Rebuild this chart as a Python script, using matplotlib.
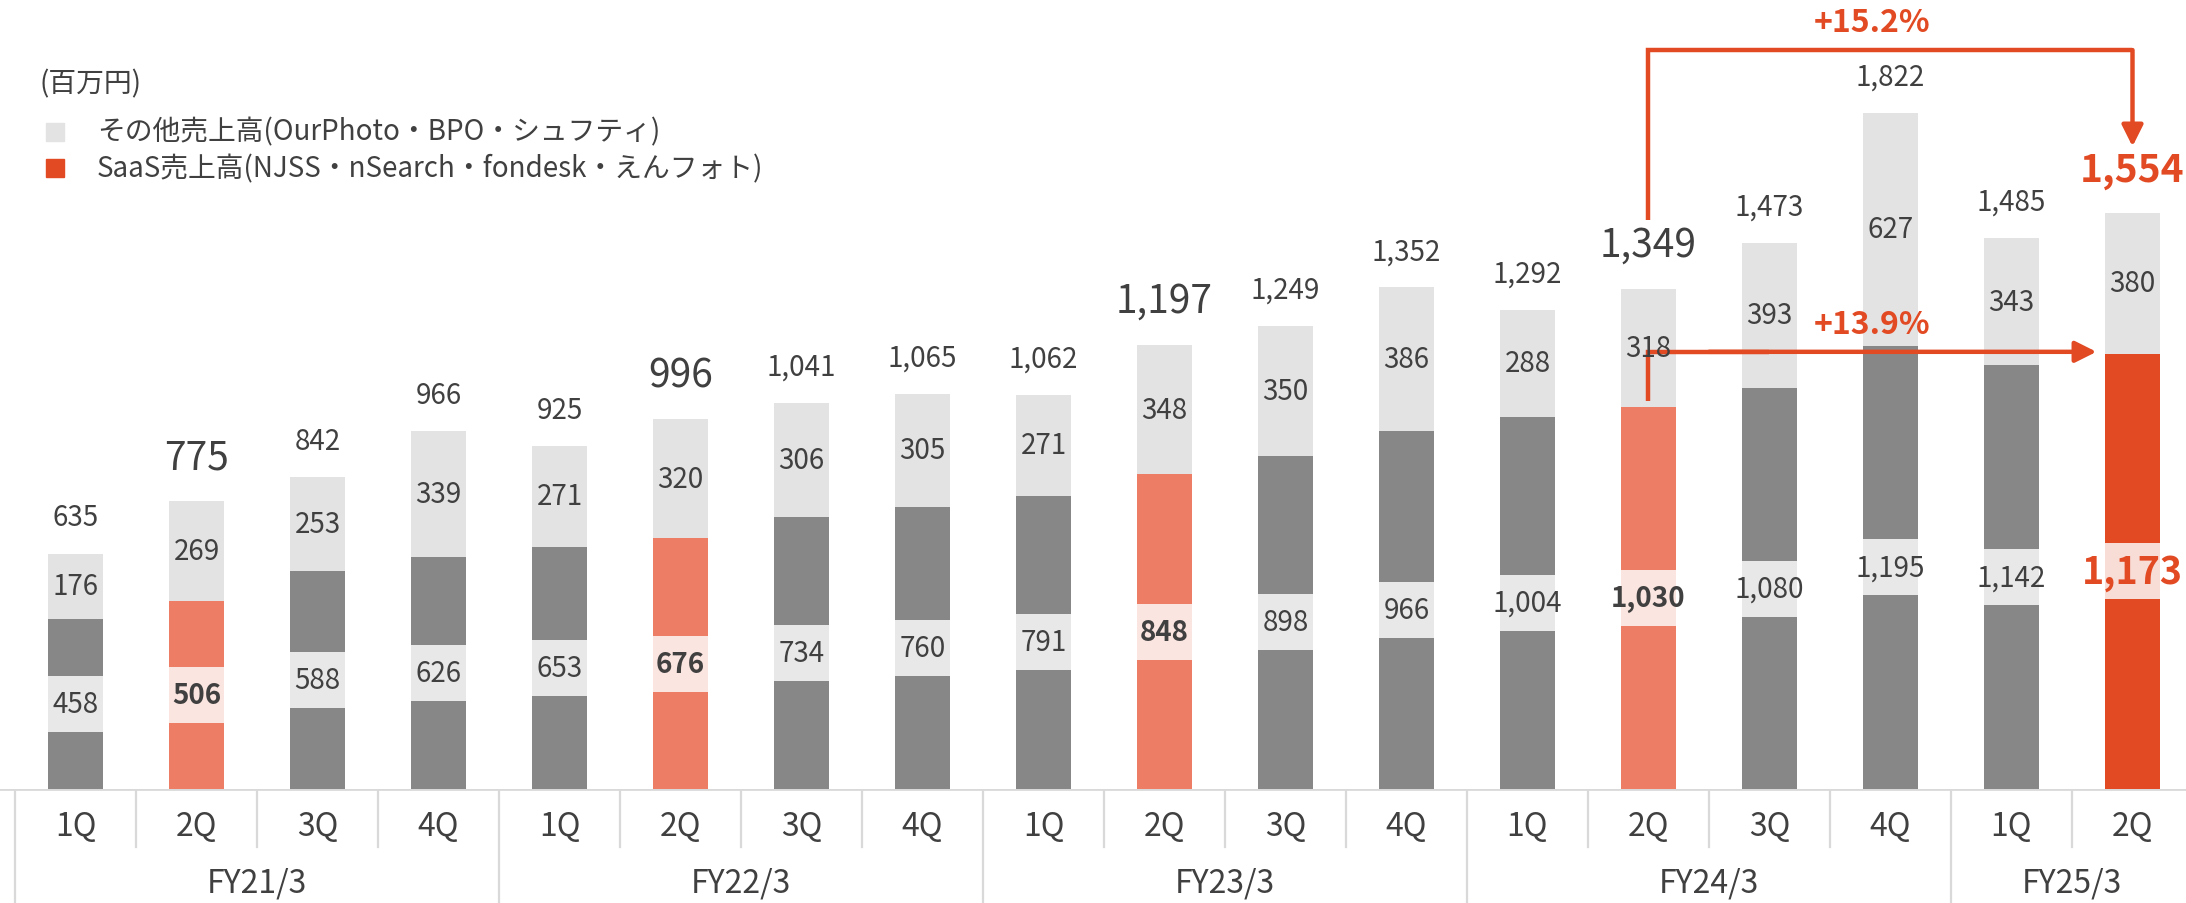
import matplotlib
matplotlib.use("Agg")
import numpy as np
import matplotlib.pyplot as plt

plt.rcParams['font.family'] = ['Noto Sans CJK JP', 'DejaVu Sans']

# Data (百万円)
fiscal_years = ['FY21/3', 'FY22/3', 'FY23/3', 'FY24/3', 'FY25/3']
quarters_per_year = [4, 4, 4, 4, 2]
quarter_labels = ['1Q', '2Q', '3Q', '4Q'] * 4 + ['1Q', '2Q']
saas = [458, 506, 588, 626, 653, 676, 734, 760, 791, 848, 898, 966,
        1004, 1030, 1080, 1195, 1142, 1173]
other = [176, 269, 253, 339, 271, 320, 306, 305, 271, 348, 350, 386,
         288, 318, 393, 627, 343, 380]
totals = [635, 775, 842, 966, 925, 996, 1041, 1065, 1062, 1197, 1249, 1352,
          1292, 1349, 1473, 1822, 1485, 1554]
growth_total = '+15.2%'
growth_saas = '+13.9%'

# Colors
GRAY = '#878787'
SALMON = '#EE7D65'
ORANGE = '#E24A23'
LIGHT = '#E3E3E3'
TXT = '#404040'

n = len(saas)
x = np.arange(n)
is_2q = [q == '2Q' for q in quarter_labels]
last = n - 1

bar_colors = []
band_colors = []
for i in range(n):
    if i == last:
        bar_colors.append(ORANGE)
        band_colors.append('#F8DCD6')
    elif is_2q[i]:
        bar_colors.append(SALMON)
        band_colors.append('#FBE5E0')
    else:
        bar_colors.append(GRAY)
        band_colors.append('#E8E8E8')

# Figure geometry in pixels
W, H = 2186, 904
base_px = 790          # baseline from top
col_px = 121.0
left_px = 15
ppu = 0.371            # pixels per unit

fig = plt.figure(figsize=(W / 100, H / 100), dpi=100)
ax = fig.add_axes([0, (H - base_px) / H, 1, base_px / H])
xmin = -0.5 - left_px / col_px
xmax = xmin + W / col_px
ax.set_xlim(xmin, xmax)
ax.set_ylim(0, base_px / ppu)
ax.axis('off')

u = lambda px: px / ppu  # pixel offset to data units

bw = 0.455
ax.bar(x, saas, width=bw, color=bar_colors, zorder=2)
ax.bar(x, other, bottom=saas, width=bw, color=LIGHT, zorder=2)

# label bands in the middle of the SaaS segment
band_h = u(56)
saas_arr = np.array(saas)
ax.bar(x, band_h, bottom=saas_arr / 2 - band_h / 2, width=bw, color=band_colors, zorder=3)

for i in range(n):
    # SaaS labels
    if i == last:
        ax.text(x[i], saas[i] / 2, f'{saas[i]:,}', ha='center', va='center',
                fontsize=27, fontweight='bold', color=ORANGE, zorder=4)
    elif is_2q[i]:
        ax.text(x[i], saas[i] / 2, f'{saas[i]:,}', ha='center', va='center',
                fontsize=20, fontweight='bold', color=TXT, zorder=4)
    else:
        ax.text(x[i], saas[i] / 2, f'{saas[i]:,}', ha='center', va='center',
                fontsize=20, color=TXT, zorder=4)
    # other labels
    ax.text(x[i], saas[i] + other[i] / 2, f'{other[i]:,}', ha='center', va='center',
            fontsize=20, color=TXT, zorder=4)
    # totals
    if i == last:
        ax.text(x[i], totals[i] + u(43), f'{totals[i]:,}', ha='center', va='center',
                fontsize=28, fontweight='bold', color=ORANGE)
    elif is_2q[i]:
        ax.text(x[i], totals[i] + u(44), f'{totals[i]:,}', ha='center', va='center',
                fontsize=28, color=TXT)
    else:
        ax.text(x[i], totals[i] + u(36), f'{totals[i]:,}', ha='center', va='center',
                fontsize=20, color=TXT)

# growth arrows
src = last - 4  # FY24/3 2Q
lw = 3.2
top_y = max(totals) + u(63)
ax.plot([x[src], x[src], x[last]], [totals[src] + u(69), top_y, top_y],
        color=ORANGE, lw=lw, solid_joinstyle='miter', solid_capstyle='butt')
ax.annotate('', xy=(x[last], totals[last] + u(66)), xytext=(x[last], top_y),
            arrowprops=dict(arrowstyle='-|>', color=ORANGE, lw=lw,
                            mutation_scale=32, shrinkA=0, shrinkB=0))
ax.text(14.85, top_y + u(28), growth_total, ha='center', va='center',
        fontsize=23, fontweight='bold', color=ORANGE)

mid_y = saas[last] + u(2)
ax.plot([x[src], x[src], x[src] + 1], [saas[src] + u(6), mid_y, mid_y],
        color=ORANGE, lw=lw, solid_joinstyle='miter', solid_capstyle='butt')
ax.annotate('', xy=(x[last] - bw / 2 - 0.07, mid_y), xytext=(x[src] + 0.5, mid_y),
            arrowprops=dict(arrowstyle='-|>', color=ORANGE, lw=lw,
                            mutation_scale=32, shrinkA=0, shrinkB=0))
ax.text(14.85, mid_y + u(28), growth_saas, ha='center', va='center',
        fontsize=23, fontweight='bold', color=ORANGE)

# category table below
tax = fig.add_axes([0, 0, 1, (H - base_px) / H])
tax.set_xlim(xmin, xmax)
tax.set_ylim(H - base_px, 0)
tax.axis('off')
LINE = '#D9D9D9'
tax.axhline(0, color=LINE, lw=2)
starts = np.cumsum([0] + quarters_per_year)
for b in range(n + 1):
    if b in starts:
        tax.plot([b - 0.5, b - 0.5], [0, H - base_px], color=LINE, lw=1.6)
    else:
        tax.plot([b - 0.5, b - 0.5], [0, 58], color=LINE, lw=1.6)
for i in range(n):
    tax.text(x[i], 37, quarter_labels[i], ha='center', va='center', fontsize=23, color=TXT)
for k, fy in enumerate(fiscal_years):
    c = (starts[k] + starts[k + 1] - 1) / 2
    tax.text(c, 94, fy, ha='center', va='center', fontsize=23, color=TXT)

# legend
fig.text(40 / W, 1 - 84 / H, '(百万円)', ha='left', va='center', fontsize=20, color=TXT)
fig.patches.append(plt.Rectangle((46 / W, 1 - 142 / H), 18 / W, 18 / H,
                                 transform=fig.transFigure, color=LIGHT))
fig.text(97 / W, 1 - 132 / H, 'その他売上高(OurPhoto・BPO・シュフティ)', ha='left', va='center',
         fontsize=20, color=TXT)
fig.patches.append(plt.Rectangle((46 / W, 1 - 178 / H), 18 / W, 18 / H,
                                 transform=fig.transFigure, color=ORANGE))
fig.text(97 / W, 1 - 169 / H, 'SaaS売上高(NJSS・nSearch・fondesk・えんフォト)', ha='left', va='center',
         fontsize=20, color=TXT)

fig.savefig('out.png', dpi=100)
